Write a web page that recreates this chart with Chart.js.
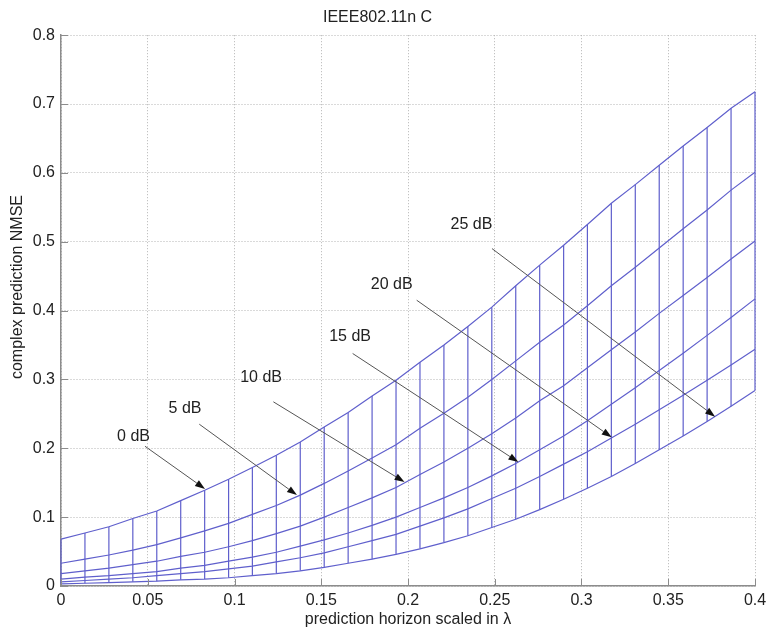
<!DOCTYPE html>
<html lang="en">
  <head>
    <meta charset="UTF-8" />
    <title>IEEE802.11n C</title>
    <style>
      * {
        margin: 0;
        padding: 0;
        box-sizing: border-box;
      }
      body {
        background: #fff;
      }
      #chart {
        display: block;
      }
    </style>
    <script src="https://cdn.jsdelivr.net/npm/chart.js"></script>
  </head>
  <body>
    <canvas id="chart" width="766" height="627"></canvas>
    <script>
      // prediction horizon (in wavelengths) where each curve was evaluated
      const horizon = [
        0, 0.0138, 0.0276, 0.0414, 0.0552, 0.069, 0.0828, 0.0966, 0.1103, 0.1241,
        0.1379, 0.1517, 0.1655, 0.1793, 0.1931, 0.2069, 0.2207, 0.2345, 0.2483, 0.2621,
        0.2759, 0.2897, 0.3034, 0.3172, 0.331, 0.3448, 0.3586, 0.3724, 0.3862, 0.4,
      ];

      const snrLabels = ["0 dB", "5 dB", "10 dB", "15 dB", "20 dB", "25 dB"];

      const nmse0dB = [
        0.068, 0.077, 0.086, 0.098, 0.109, 0.124, 0.139, 0.155, 0.172, 0.19,
        0.209, 0.231, 0.252, 0.276, 0.299, 0.325, 0.35, 0.377, 0.405, 0.436,
        0.466, 0.495, 0.525, 0.556, 0.583, 0.611, 0.639, 0.666, 0.694, 0.718,
      ];
      const nmse5dB = [
        0.033, 0.039, 0.045, 0.052, 0.06, 0.07, 0.08, 0.091, 0.104, 0.117,
        0.132, 0.149, 0.167, 0.186, 0.205, 0.229, 0.251, 0.274, 0.3, 0.327,
        0.354, 0.379, 0.407, 0.436, 0.463, 0.491, 0.519, 0.546, 0.575, 0.601,
      ];
      const nmse10dB = [
        0.018, 0.022, 0.026, 0.031, 0.036, 0.043, 0.049, 0.057, 0.066, 0.076,
        0.087, 0.1, 0.114, 0.128, 0.143, 0.162, 0.18, 0.2, 0.221, 0.244,
        0.269, 0.291, 0.317, 0.343, 0.369, 0.396, 0.422, 0.448, 0.475, 0.501,
      ];
      const nmse15dB = [
        0.01, 0.013, 0.015, 0.018, 0.021, 0.026, 0.03, 0.036, 0.042, 0.049,
        0.058, 0.067, 0.077, 0.088, 0.1, 0.114, 0.128, 0.143, 0.16, 0.178,
        0.198, 0.218, 0.24, 0.264, 0.288, 0.313, 0.338, 0.364, 0.39, 0.417,
      ];
      const nmse20dB = [
        0.006, 0.008, 0.01, 0.012, 0.015, 0.018, 0.021, 0.025, 0.029, 0.035,
        0.041, 0.048, 0.057, 0.066, 0.075, 0.087, 0.099, 0.112, 0.127, 0.142,
        0.159, 0.177, 0.195, 0.215, 0.235, 0.256, 0.277, 0.299, 0.321, 0.344,
      ];
      const nmse25dB = [
        0.003, 0.004, 0.005, 0.006, 0.007, 0.009, 0.01, 0.012, 0.015, 0.018,
        0.022, 0.027, 0.033, 0.039, 0.046, 0.054, 0.063, 0.073, 0.085, 0.097,
        0.111, 0.126, 0.142, 0.159, 0.178, 0.198, 0.218, 0.239, 0.261, 0.284,
      ];

      const xTicks = [0, 0.05, 0.1, 0.15, 0.2, 0.25, 0.3, 0.35, 0.4];
      const yTicks = [0, 0.1, 0.2, 0.3, 0.4, 0.5, 0.6, 0.7, 0.8];

      const curves = [nmse0dB, nmse5dB, nmse10dB, nmse15dB, nmse20dB, nmse25dB];

      // annotation arrows, in data units: label centre, arrow start, arrow tip
      const arrows = [
        { label: [0.0418, 0.217], from: [0.0484, 0.203], to: [0.083, 0.141] },
        { label: [0.0715, 0.258], from: [0.0797, 0.235], to: [0.136, 0.132] },
        { label: [0.1153, 0.3026], from: [0.1224, 0.2675], to: [0.198, 0.151] },
        { label: [0.1666, 0.3628], from: [0.1681, 0.3377], to: [0.2636, 0.18] },
        { label: [0.1906, 0.4376], from: [0.205, 0.4151], to: [0.3174, 0.216] },
        { label: [0.2366, 0.5247], from: [0.2484, 0.4901], to: [0.377, 0.246] },
      ];

      const FONT = '"Liberation Sans", Arial, sans-serif';
      const LINE = "#5f5fcc";
      const AXIS = "#8c8c8c";
      const TEXT = "#222";
      const GRID = "#b4b4b4";

      const curveSets = curves.map((vals, k) => ({
        label: snrLabels[k],
        data: horizon.map((x, i) => ({ x, y: vals[i] })),
        borderColor: LINE,
        borderWidth: 1.2,
        pointRadius: 0,
        tension: 0,
        clip: false,
      }));

      // vertical strokes joining the 0 dB and 25 dB curves at each horizon
      const rungs = {
        label: "rungs",
        data: horizon.flatMap((x, i) => [
          { x, y: nmse0dB[i] },
          { x, y: nmse25dB[i] },
          { x, y: null },
        ]),
        borderColor: LINE,
        borderWidth: 1.2,
        pointRadius: 0,
        spanGaps: false,
        clip: false,
      };

      const annotations = {
        id: "annotations",
        afterDatasetsDraw(chart) {
          const { ctx, chartArea: a, scales: { x, y } } = chart;
          ctx.save();

          // inward tick marks along left and bottom axes
          ctx.strokeStyle = AXIS;
          ctx.lineWidth = 1;
          xTicks.forEach(v => {
            const px = Math.round(x.getPixelForValue(v)) + 0.5;
            ctx.beginPath();
            ctx.moveTo(px, a.bottom);
            ctx.lineTo(px, a.bottom - 7);
            ctx.stroke();
          });
          yTicks.forEach(v => {
            const py = Math.round(y.getPixelForValue(v)) + 0.5;
            ctx.beginPath();
            ctx.moveTo(a.left, py);
            ctx.lineTo(a.left + 7, py);
            ctx.stroke();
          });

          ctx.font = `16px ${FONT}`;
          ctx.textAlign = "center";
          ctx.textBaseline = "middle";
          arrows.forEach((arr, k) => {
            const x0 = x.getPixelForValue(arr.from[0]);
            const y0 = y.getPixelForValue(arr.from[1]);
            const x1 = x.getPixelForValue(arr.to[0]);
            const y1 = y.getPixelForValue(arr.to[1]);
            const ang = Math.atan2(y1 - y0, x1 - x0);
            const len = 10;
            const half = 3.5;
            const bx = x1 - len * Math.cos(ang);
            const by = y1 - len * Math.sin(ang);

            ctx.strokeStyle = "#555";
            ctx.lineWidth = 1;
            ctx.beginPath();
            ctx.moveTo(x0, y0);
            ctx.lineTo(bx, by);
            ctx.stroke();

            ctx.fillStyle = "#111";
            ctx.beginPath();
            ctx.moveTo(x1, y1);
            ctx.lineTo(bx + half * Math.sin(ang), by - half * Math.cos(ang));
            ctx.lineTo(bx - half * Math.sin(ang), by + half * Math.cos(ang));
            ctx.closePath();
            ctx.fill();

            ctx.fillStyle = TEXT;
            ctx.fillText(snrLabels[k], x.getPixelForValue(arr.label[0]), y.getPixelForValue(arr.label[1]));
          });
          ctx.restore();
        },
        afterDraw(chart) {
          const { ctx, chartArea: a, height } = chart;
          ctx.save();
          ctx.fillStyle = TEXT;
          ctx.font = `16px ${FONT}`;
          ctx.textAlign = "center";
          ctx.textBaseline = "middle";
          ctx.fillText("prediction horizon scaled in λ", (a.left + a.right) / 2, height - 7);
          ctx.translate(18, 287);
          ctx.rotate(-Math.PI / 2);
          ctx.fillText("complex prediction NMSE", 0, 0);
          ctx.restore();
        },
      };

      const tickFont = { family: FONT, size: 16 };

      new Chart(document.getElementById("chart"), {
        type: "line",
        data: { datasets: [...curveSets, rungs] },
        options: {
          responsive: false,
          animation: false,
          devicePixelRatio: 1,
          layout: { padding: { right: 11 } },
          plugins: {
            legend: { display: false },
            tooltip: { enabled: false },
            title: {
              display: true,
              text: "IEEE802.11n C",
              color: TEXT,
              font: { family: FONT, size: 16, weight: "normal" },
              padding: { top: 8, bottom: 8 },
            },
          },
          scales: {
            x: {
              type: "linear",
              min: 0,
              max: 0.4,
              afterBuildTicks: s => { s.ticks = xTicks.map(value => ({ value })); },
              afterFit: s => {
                s.height = 41;
                s.paddingLeft = 0;
                s.paddingRight = 0;
              },
              grid: { color: GRID, drawTicks: false },
              border: { color: AXIS, width: 1.5, dash: [1, 2] },
              ticks: { padding: 5, color: TEXT, font: tickFont, maxRotation: 0, callback: v => String(v) },
            },
            y: {
              type: "linear",
              min: 0,
              max: 0.8,
              afterBuildTicks: s => { s.ticks = yTicks.map(value => ({ value })); },
              afterFit: s => {
                s.width = 61;
                s.paddingTop = 0;
                s.paddingBottom = 0;
              },
              grid: { color: GRID, drawTicks: false },
              border: { color: AXIS, width: 1.5, dash: [1, 2] },
              ticks: { padding: 6, color: TEXT, font: tickFont, callback: v => String(v) },
            },
          },
        },
        plugins: [annotations],
      });
    </script>
  </body>
</html>
